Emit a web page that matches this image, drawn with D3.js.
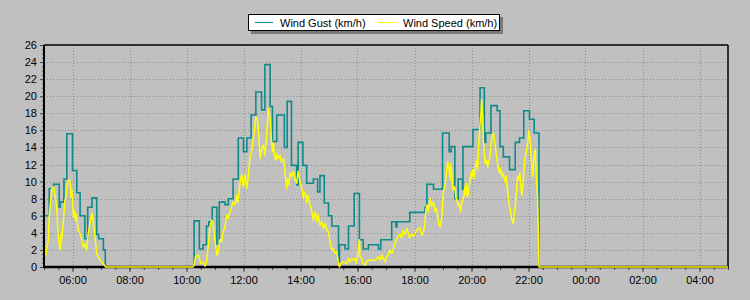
<!DOCTYPE html>
<html>
<head>
<meta charset="utf-8">
<script src="https://cdn.jsdelivr.net/npm/d3@7"></script>
<style>
  html, body { margin: 0; padding: 0; background: #c0c0c0; }
  svg { display: block; font-family: "Liberation Sans", Arial, sans-serif; }
</style>
</head>
<body>
<svg id="chart" width="750" height="300"></svg>
<script>
// ---------------- DATA ----------------
const seriesNames = ["Wind Gust (km/h)", "Wind Speed (km/h)"];

const gustTimes = [
  "05:02","05:11","05:20","05:32","05:34","05:42","05:48","06:00","06:09","06:16","06:26","06:32","06:41","06:51","06:55","07:05","07:09",
  "10:16","10:27","10:35","10:42","10:47","10:54","11:04","11:09","11:21","11:28","11:38","11:49","12:00","12:07","12:16","12:26","12:38","12:45","12:56",
  "13:01","13:10","13:26","13:32","13:41","13:52","13:55","14:05","14:13","14:27","14:36","14:41","14:50","14:59","15:06","15:20","15:22","15:34","15:41","15:53",
  "16:04","16:12","16:23","16:44","16:49","17:12","17:21","17:23","17:50","18:22","18:26","18:40","18:59","19:13","19:17","19:25","19:32","19:41","19:42",
  "20:03","20:18","20:27","20:30","20:41","20:54","21:00","21:07","21:20","21:32","21:41","21:50","22:02","22:12","22:22","05:00"
];
const gustValues = [
  6.0,9.2,9.7,7.0,7.6,10.3,15.6,11.3,8.7,6.0,3.3,7.0,8.1,3.8,3.3,2.0,0,
  5.4,2.1,2.6,4.8,5.3,7.0,2.7,7.6,7.3,8.0,10.3,15.1,13.5,15.1,17.8,20.5,18.4,23.7,18.8,
  14.7,17.8,14.0,19.4,11.9,9.6,14.6,11.9,9.8,10.3,8.8,10.7,7.5,6.0,4.8,0.6,2.6,2.1,4.8,8.6,
  3.2,2.1,2.6,2.1,3.2,5.3,4.7,5.3,6.4,7.0,9.7,9.1,15.7,13.5,14.1,8.0,10.3,9.1,14.1,
  16.1,21.0,14.6,15.7,18.9,18.3,14.1,12.9,11.4,14.6,15.1,18.3,17.3,15.7,0,0
];

const speedTimes = [
  "05:04","05:06","05:09","05:11","05:14","05:17","05:20","05:24","05:27","05:29","05:32","05:34","05:36","05:37","05:41","05:44","05:46","05:49","05:53","05:55","05:57","05:59",
  "06:02","06:04","06:06","06:08","06:12","06:16","06:18","06:23","06:26","06:30","06:33","06:38","06:41","06:44","06:47","06:51","06:54","06:58","07:01","07:05","07:08","07:10",
  "10:14","10:16","10:19","10:25","10:30","10:35","10:39","10:42","10:46","10:49","10:53","10:56","11:00","11:04","11:07","11:10","11:14","11:17","11:21","11:25","11:28","11:32","11:38","11:42","11:46","11:48","11:53","11:56",
  "12:00","12:03","12:07","12:09","12:14","12:17","12:19","12:23","12:26","12:30","12:33","12:35","12:38","12:42","12:45","12:49","12:52","12:56","12:58",
  "13:01","13:03","13:05","13:08","13:10","13:13","13:17","13:20","13:24","13:26","13:29","13:31","13:33","13:36","13:38","13:41","13:45","13:48","13:52","13:55","13:59",
  "14:03","14:06","14:08","14:11","14:13","14:16","14:20","14:24","14:27","14:31","14:34","14:37","14:41","14:45","14:48","14:52","14:55","14:59",
  "15:02","15:06","15:09","15:13","15:16","15:20","15:22","15:25","15:30","15:37","15:41","15:44","15:48","15:51","15:55","15:58",
  "16:02","16:04","16:05","16:09","16:12","16:16","16:19","16:23","16:30","16:37","16:44","16:47","16:51","16:54","16:58",
  "17:01","17:05","17:08","17:12","17:15","17:19","17:22","17:26","17:29","17:33","17:36","17:40","17:44","17:47","17:50","17:54","17:57",
  "18:01","18:05","18:08","18:12","18:15","18:19","18:22","18:24","18:27","18:29","18:33","18:36","18:40","18:43","18:45","18:48","18:50","18:52","18:54","18:56","18:58",
  "19:01","19:03","19:05","19:08","19:10","19:13","19:15","19:16","19:18","19:20","19:22","19:25","19:27","19:30","19:32","19:34","19:37","19:39","19:41","19:44","19:46","19:48","19:50","19:52","19:53","19:55","19:57","19:59",
  "20:00","20:03","20:05","20:07","20:09","20:11","20:13","20:15","20:18","20:20","20:21","20:24","20:25","20:27","20:29","20:32","20:34","20:36","20:39","20:41","20:43","20:46","20:48","20:50","20:53","20:56","20:59",
  "21:01","21:04","21:07","21:10","21:13","21:15","21:18","21:20","21:23","21:25","21:28","21:30","21:32","21:35","21:37","21:39","21:42","21:44","21:46","21:49","21:51","21:53","21:56","21:59",
  "22:01","22:03","22:06","22:09","22:12","22:14","22:16","22:19","22:21","22:22","05:00"
];
const speedValues = [
  1.4,2.3,3.1,5.9,7.8,9.2,9.4,8.2,6.8,4.3,2.7,2.0,3.9,3.1,5.5,7.8,8.2,9.8,10.2,10.0,8.2,9.0,
  5.9,6.6,5.5,6.2,4.3,3.9,3.5,2.3,2.7,2.0,3.9,5.5,6.3,5.2,3.7,1.6,1.2,0.8,0.6,0.4,0.1,0,
  0,0.2,1.2,1.4,0.4,0.6,0.1,0.5,2.6,4.5,5.5,5.1,3.0,1.4,1.8,3.2,3.0,4.1,4.7,6.1,5.7,6.5,7.6,7.3,8.4,7.5,10.0,10.8,
  9.4,10.8,9.2,10.0,13.1,13.5,14.3,16.0,17.6,17.0,14.7,12.7,13.9,14.3,13.1,15.5,18.6,17.4,15.5,
  13.5,14.5,13.1,12.5,13.3,12.7,13.1,12.3,12.7,11.9,10.2,9.2,10.4,9.6,11.0,10.6,11.2,10.4,9.8,11.2,10.0,
  9.2,8.0,8.8,8.4,7.5,8.4,7.3,6.5,5.5,6.5,5.3,6.1,4.9,5.3,4.5,5.1,4.3,4.1,
  3.0,2.0,2.2,1.6,1.8,0.4,0.0,0.4,0.6,0.4,1.0,0.6,1.0,0.8,1.0,0.4,
  2.2,3.2,1.2,1.0,0.4,0.2,0.6,0.8,0.8,0.8,1.2,0.8,1.4,1.0,0.6,
  1.2,1.4,2.0,1.6,2.0,2.8,3.2,3.6,3.9,3.4,4.3,3.8,4.5,3.9,3.4,3.9,3.6,
  3.9,4.3,4.5,4.5,3.7,4.1,5.1,6.7,7.3,6.5,8.0,7.1,7.6,6.5,6.9,6.3,5.5,4.9,4.7,5.3,6.1,
  9.0,9.2,9.8,11.4,12.3,11.4,10.2,12.1,11.4,9.4,9.0,9.4,8.2,7.6,7.1,7.5,6.5,7.3,7.8,8.2,9.4,8.4,9.8,8.2,8.6,9.4,10.2,11.0,
  10.4,11.4,10.4,11.0,12.1,12.5,11.4,14.1,16.8,18.0,19.6,17.2,14.9,13.3,12.1,12.5,11.7,12.3,12.9,14.5,15.1,15.7,14.9,14.1,12.9,11.7,11.0,
  11.6,10.6,11.0,10.0,10.6,9.4,8.0,7.1,6.3,5.5,5.1,6.3,7.1,9.0,10.6,10.2,11.0,9.4,8.4,10.2,11.7,12.9,13.7,14.9,
  16.0,14.9,12.5,10.6,13.3,13.7,11.4,8.2,3.5,0,0
];

const yTickValues = [0,2,4,6,8,10,12,14,16,18,20,22,24,26];
const xTickLabels = ["06:00","08:00","10:00","12:00","14:00","16:00","18:00","20:00","22:00","00:00","02:00","04:00"];
const xStart = "05:00", xEnd = "05:00";

// ---------------- HELPERS ----------------
function toDates(arr) {
  let day = 0, prev = -1;
  return arr.map(s => {
    const [h, m] = s.split(":").map(Number);
    const t = h * 60 + m;
    if (t < prev) day++;
    prev = t;
    return new Date(2000, 0, 1 + day, h, m);
  });
}
const gustData = toDates(gustTimes).map((d, i) => ({ t: d, v: gustValues[i] }));
const speedData = toDates(speedTimes).map((d, i) => ({ t: d, v: speedValues[i] }));
const [dStart, dEnd] = toDates([xStart, "12:00", xEnd]).filter((d, i) => i !== 1);
const xMajorDates = toDates(xTickLabels);

// ---------------- LAYOUT ----------------
const svg = d3.select("#chart");
const L = 44, R = 728, T = 45, B = 267;

svg.append("rect").attr("width", 750).attr("height", 300).attr("fill", "#c0c0c0");

const x = d3.scaleTime().domain([dStart, dEnd]).range([L, R]);
const y = d3.scaleLinear().domain([0, 26]).range([B, T]);

// grid
const grid = svg.append("g").attr("stroke", "#8f8f8f").attr("stroke-dasharray", "1,2").attr("stroke-width", 1);
grid.selectAll("line.h").data(yTickValues.filter(v => v > 0 && v < 26)).join("line")
  .attr("x1", L).attr("x2", R)
  .attr("y1", d => Math.round(y(d)) + 0.5).attr("y2", d => Math.round(y(d)) + 0.5);
grid.selectAll("line.v").data(xMajorDates).join("line")
  .attr("y1", T).attr("y2", B)
  .attr("x1", d => Math.round(x(d)) + 0.5).attr("x2", d => Math.round(x(d)) + 0.5);

// axes
const xAxisMinor = d3.axisBottom(x).ticks(d3.timeMinute.every(30)).tickSize(3).tickFormat("");
const xAxisMajor = d3.axisBottom(x).tickValues(xMajorDates).tickSize(5).tickPadding(4)
  .tickFormat((d, i) => xTickLabels[i]);
const gxm = svg.append("g").attr("transform", `translate(0,${B})`).call(xAxisMinor);
const gx = svg.append("g").attr("transform", `translate(0,${B})`).call(xAxisMajor);
[gxm, gx].forEach(g => { g.select(".domain").remove(); g.selectAll("line").attr("stroke", "#444"); });
gxm.selectAll(".tick").filter(d => d < dStart || d > dEnd).remove();
gx.selectAll("text").attr("font-size", 11).attr("fill", "#000").attr("font-family", "Liberation Sans, Arial, sans-serif");

const yMinor = d3.range(0, 26.01, 0.5);
const yAxisMinor = d3.axisLeft(y).tickValues(yMinor).tickSize(2).tickFormat("");
const yAxisMajor = d3.axisLeft(y).tickValues(yTickValues).tickSize(4).tickPadding(3).tickFormat(d3.format("d"));
const gym = svg.append("g").attr("transform", `translate(${L},0)`).call(yAxisMinor);
const gy = svg.append("g").attr("transform", `translate(${L},0)`).call(yAxisMajor);
[gym, gy].forEach(g => { g.select(".domain").remove(); g.selectAll("line").attr("stroke", "#444"); });
gy.selectAll("text").attr("font-size", 11).attr("fill", "#000").attr("font-family", "Liberation Sans, Arial, sans-serif");

// lines
svg.append("clipPath").attr("id", "plotclip").append("rect")
  .attr("x", L).attr("y", T - 2).attr("width", R - L).attr("height", B - T + 4);

const gustLine = d3.line().x(d => x(d.t)).y(d => y(d.v)).curve(d3.curveStepAfter);
const speedLine = d3.line().x(d => x(d.t)).y(d => y(d.v));

const plot = svg.append("g").attr("clip-path", "url(#plotclip)");
plot.append("path").datum(gustData).attr("d", gustLine)
  .attr("fill", "none").attr("stroke", "#0e8a8a").attr("stroke-width", 1.6);

// frame
svg.append("line").attr("x1", L).attr("x2", R).attr("y1", T).attr("y2", T).attr("stroke", "#000").attr("stroke-width", 1.5);
svg.append("line").attr("x1", R).attr("x2", R).attr("y1", T).attr("y2", B + 1).attr("stroke", "#000").attr("stroke-width", 1.5);
svg.append("line").attr("x1", L).attr("x2", L).attr("y1", T).attr("y2", B + 1).attr("stroke", "#000").attr("stroke-width", 2);
svg.append("line").attr("x1", L).attr("x2", R).attr("y1", B).attr("y2", B).attr("stroke", "#000").attr("stroke-width", 2.5);

const plot2 = svg.append("g").attr("clip-path", "url(#plotclip)");
plot2.append("path").datum(speedData).attr("d", speedLine)
  .attr("fill", "none").attr("stroke", "#ffff00").attr("stroke-width", 1.5).attr("stroke-linejoin", "round");

// legend
const lg = svg.append("g");
lg.append("rect").attr("x", 251).attr("y", 17).attr("width", 252).attr("height", 17).attr("fill", "#7a7a7a");
lg.append("rect").attr("x", 248.5).attr("y", 14.5).attr("width", 251).attr("height", 16).attr("fill", "#fff").attr("stroke", "#000").attr("stroke-width", 1);
const legendItems = [
  { name: seriesNames[0], color: "#0e8a8a", lx: 255, tx: 280 },
  { name: seriesNames[1], color: "#ffff00", lx: 378, tx: 403 }
];
lg.selectAll("line.item").data(legendItems).join("line")
  .attr("x1", d => d.lx).attr("x2", d => d.lx + 18).attr("y1", 22.5).attr("y2", 22.5)
  .attr("stroke", d => d.color).attr("stroke-width", 1);
lg.selectAll("text.item").data(legendItems).join("text")
  .attr("x", d => d.tx).attr("y", 26.5).attr("font-size", 11).attr("fill", "#000")
  .text(d => d.name);
</script>
</body>
</html>
